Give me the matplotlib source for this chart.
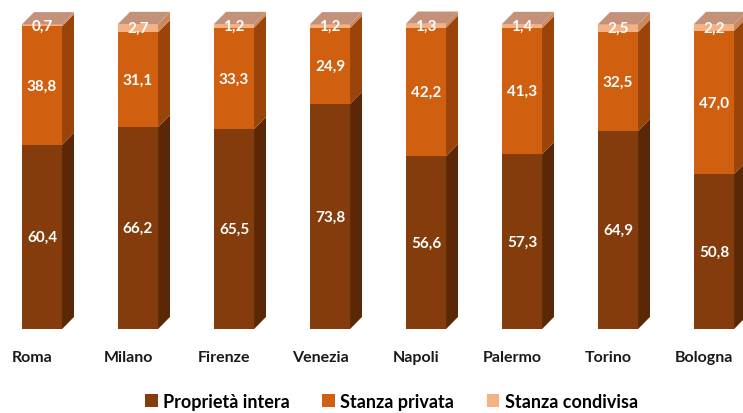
import matplotlib.pyplot as plt
import numpy as np
from matplotlib.patches import Polygon, Patch

plt.rcParams['font.family'] = ['Lato', 'DejaVu Sans']

cities = ['Roma', 'Milano', 'Firenze', 'Venezia', 'Napoli', 'Palermo', 'Torino', 'Bologna']
intera = [60.4, 66.2, 65.5, 73.8, 56.6, 57.3, 64.9, 50.8]
privata = [38.8, 31.1, 33.3, 24.9, 42.2, 41.3, 32.5, 47.0]
condivisa = [0.7, 2.7, 1.2, 1.2, 1.3, 1.4, 2.5, 2.2]
series_names = ['Proprietà intera', 'Stanza privata', 'Stanza condivisa']

front = ['#843c0c', '#d0600f', '#f4b183']
side = ['#5a2806', '#9a440a', '#c98a60']
top_col = ['#a0603a', '#e08a4a', '#c4917a']

fig = plt.figure(figsize=(7.43, 4.14), dpi=100)
ax = fig.add_axes([0, 0, 1, 1])
ax.set_xlim(-0.4375, 7.302)
ax.set_ylim(-27.5, 108.2)
ax.axis('off')

x = np.arange(len(cities))
w = 0.417
dx, dy = 0.125, 4.0

data = [intera, privata, condivisa]
bottom = np.zeros(len(cities))
for k, vals in enumerate(data):
    vals = np.array(vals)
    ax.bar(x, vals, w, bottom=bottom, color=front[k], linewidth=0)
    for i in range(len(cities)):
        b, t = bottom[i], bottom[i] + vals[i]
        r = x[i] + w / 2
        ax.add_patch(Polygon([(r, b), (r + dx, b + dy), (r + dx, t + dy), (r, t)],
                             closed=True, facecolor=side[k], edgecolor='none'))
        if k == len(data) - 1:
            l = x[i] - w / 2
            ax.add_patch(Polygon([(l, t), (l + dx, t + dy), (r + dx, t + dy), (r, t)],
                                 closed=True, facecolor=top_col[k], edgecolor='none'))
        ax.text(x[i], b + vals[i] / 2, f'{vals[i]:.1f}'.replace('.', ','),
                ha='center', va='center', color='white', fontsize=11, fontweight='bold')
    bottom += vals

for i, c in enumerate(cities):
    ax.text(x[i] - 0.1, -9.3, c, ha='center', va='center', fontsize=11.5, fontweight='bold', color='#1a1a1a')

handles = [Patch(facecolor=front[k], edgecolor='none') for k in range(3)]
fig.legend(handles, series_names, loc='center', bbox_to_anchor=(0.527, 0.028), ncol=3,
           frameon=False, prop={'weight': 'bold', 'size': 13}, handlelength=0.7,
           handleheight=0.7, handletextpad=0.3, columnspacing=1.8)

fig.savefig('out.png', dpi=100)
